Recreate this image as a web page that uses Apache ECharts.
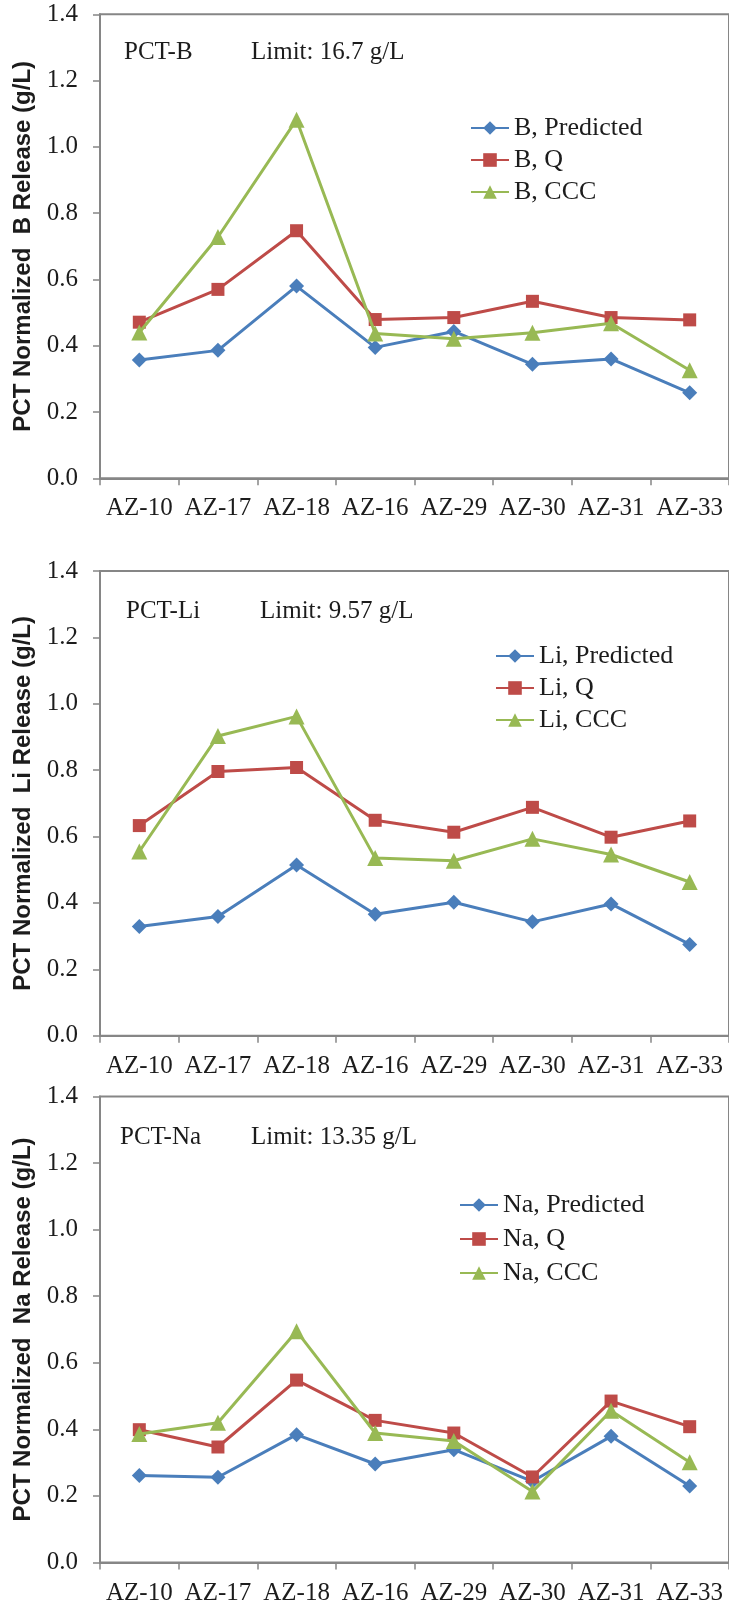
<!DOCTYPE html>
<html>
<head>
<meta charset="utf-8">
<script src="https://cdn.jsdelivr.net/npm/echarts@6/dist/echarts.min.js"></script>
<style>
  html, body { margin: 0; padding: 0; background: #fff; }
  #chart { width: 729px; height: 1606px; }
</style>
</head>
<body>
<div id="chart"></div>
<script>
// Glass samples along the x axis
const categories = ['AZ-10', 'AZ-17', 'AZ-18', 'AZ-16', 'AZ-29', 'AZ-30', 'AZ-31', 'AZ-33'];

// PCT normalized release (g/L)
const bPredicted  = [0.357, 0.386, 0.580, 0.395, 0.443, 0.344, 0.360, 0.258];
const bQ          = [0.471, 0.570, 0.747, 0.479, 0.485, 0.534, 0.485, 0.478];
const bCCC        = [0.440, 0.728, 1.082, 0.437, 0.421, 0.439, 0.468, 0.326];

const liPredicted = [0.329, 0.359, 0.514, 0.366, 0.402, 0.343, 0.397, 0.275];
const liQ         = [0.633, 0.796, 0.808, 0.649, 0.613, 0.688, 0.598, 0.647];
const liCCC       = [0.555, 0.903, 0.962, 0.535, 0.527, 0.593, 0.546, 0.463];

const naPredicted = [0.261, 0.256, 0.384, 0.296, 0.339, 0.244, 0.379, 0.230];
const naQ         = [0.399, 0.347, 0.548, 0.427, 0.389, 0.257, 0.485, 0.408];
const naCCC       = [0.386, 0.420, 0.695, 0.389, 0.365, 0.213, 0.456, 0.301];

// Panel labels
const elements   = ['B', 'Li', 'Na'];
const panelNames = ['PCT-B', 'PCT-Li', 'PCT-Na'];
const limitTexts = ['Limit: 16.7 g/L', 'Limit: 9.57 g/L', 'Limit: 13.35 g/L'];
const seriesKinds = ['Predicted', 'Q', 'CCC'];
const panelData = [
  [bPredicted, bQ, bCCC],
  [liPredicted, liQ, liCCC],
  [naPredicted, naQ, naCCC]
];

// Y axis range
const yMin = 0, yMax = 1.4, yStep = 0.2;

// Layout of the three stacked panels
const grids = [
  { top: 14.3,   height: 464 },
  { top: 571,    height: 464.7 },
  { top: 1096.5, height: 466 }
];
const legendPos = [
  { left: 470, top: 115, gap: 6 },
  { left: 495, top: 643, gap: 6 },
  { left: 459, top: 1192, gap: 8 }
];
const annotPos = [
  { nameX: 124, limitX: 251, y: 52.5 },
  { nameX: 126, limitX: 260, y: 611 },
  { nameX: 120, limitX: 251, y: 1137 }
];

const colors  = ['#4A7EBB', '#BE4B48', '#98B954'];
const symbols = ['diamond', 'rect', 'triangle'];
const symSizes = [15, 13, 16];

const serif = '"Liberation Serif", "Times New Roman", serif';
const sans  = '"Liberation Sans", Arial, sans-serif';
const axisGray = '#868686';
const textColor = '#1c1c1c';

const option = {
  backgroundColor: '#fff',
  animation: false,
  grid: [],
  xAxis: [],
  yAxis: [],
  legend: [],
  series: [],
  graphic: []
};

for (let p = 0; p < 3; p++) {
  option.grid.push({
    left: 100, width: 630, top: grids[p].top, height: grids[p].height,
    show: true, borderColor: axisGray, borderWidth: 2, backgroundColor: 'transparent'
  });
  option.xAxis.push({
    type: 'category', gridIndex: p, data: categories, boundaryGap: true,
    axisLine: { lineStyle: { color: axisGray, width: 2 } },
    axisTick: { show: true, inside: false, length: 7, lineStyle: { color: axisGray, width: 1.5 } },
    axisLabel: { color: textColor, fontFamily: serif, fontSize: 25, margin: 18, interval: 0 },
    splitLine: { show: false }
  });
  option.yAxis.push({
    type: 'value', gridIndex: p, min: yMin, max: yMax, interval: yStep,
    name: 'PCT Normalized  ' + elements[p] + ' Release (g/L)',
    nameLocation: 'middle', nameGap: 64,
    nameTextStyle: { color: textColor, fontFamily: sans, fontWeight: 'bold', fontSize: 24 },
    axisLine: { show: true, lineStyle: { color: axisGray, width: 2 } },
    axisTick: { show: true, inside: false, length: 7, lineStyle: { color: axisGray, width: 1.5 } },
    axisLabel: {
      color: textColor, fontFamily: serif, fontSize: 25, margin: 22,
      formatter: v => v.toFixed(1)
    },
    splitLine: { show: false }
  });

  const names = seriesKinds.map(k => elements[p] + ', ' + k);
  option.legend.push({
    orient: 'vertical', left: legendPos[p].left, top: legendPos[p].top,
    itemGap: legendPos[p].gap, itemWidth: 38, itemHeight: 17, padding: 0,
    data: names,
    textStyle: { color: textColor, fontFamily: serif, fontSize: 26, lineHeight: 26 }
  });

  for (let s = 0; s < 3; s++) {
    option.series.push({
      type: 'line', name: names[s], xAxisIndex: p, yAxisIndex: p,
      data: panelData[p][s],
      symbol: symbols[s], symbolSize: symSizes[s], showSymbol: true,
      lineStyle: { color: colors[s], width: 3 },
      itemStyle: { color: colors[s], borderWidth: 0 },
      z: 2 + s
    });
  }

  option.graphic.push({
    type: 'text', x: annotPos[p].nameX, y: annotPos[p].y,
    style: { text: panelNames[p], font: '25px ' + serif, fill: textColor, verticalAlign: 'middle' }
  });
  option.graphic.push({
    type: 'text', x: annotPos[p].limitX, y: annotPos[p].y,
    style: { text: limitTexts[p], font: '25px ' + serif, fill: textColor, verticalAlign: 'middle' }
  });
}

const chart = echarts.init(document.getElementById('chart'));
chart.setOption(option);
</script>
</body>
</html>
